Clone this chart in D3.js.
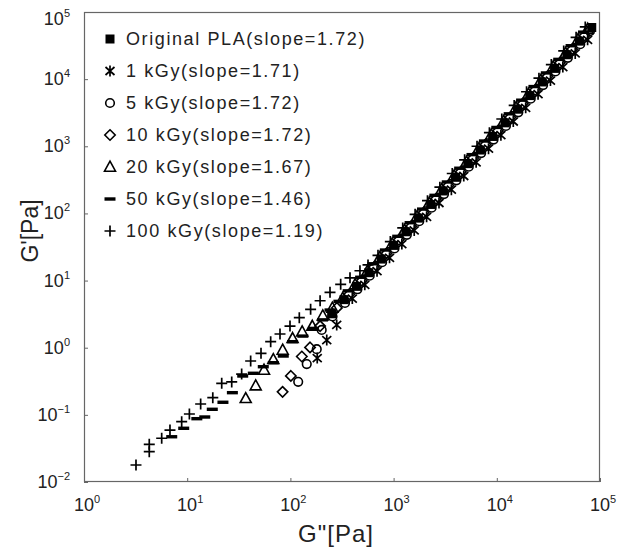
<!DOCTYPE html>
<html><head><meta charset="utf-8">
<script src="https://cdn.jsdelivr.net/npm/d3@7"></script>
<style>html,body{margin:0;padding:0;background:#fff}svg{display:block}</style>
</head><body>
<script>
// ---------- data ----------
const seriesNames = ["Original PLA(slope=1.72)","1 kGy(slope=1.71)","5 kGy(slope=1.72)","10 kGy(slope=1.72)","20 kGy(slope=1.67)","50 kGy(slope=1.46)","100 kGy(slope=1.19)"];
const markerTypes = ["square","asterisk","circle","diamond","triangle","dash","plus"];
const xTickExps = [0,1,2,3,4,5];
const yTickExps = [-2,-1,0,1,2,3,4,5];

// [G'', G']
const origPLA = [[251,3.2],[331,5.2],[437,8.2],[575,13.1],[759,20.9],[1000,33.4],[1318,53.3],[1738,85.1],[2291,136],[3020,216],[3981,345],[5248,551],[6918,879],[9120,1400],[12020,2234],[15850,3565],[20890,5689],[27540,9078],[36310,14450],[47860,23070],[63100,36810],[83180,58750]];
const kGy1 = [[182,0.70],[225,1.30],[281,2.18],[398,5.40],[526,8.63],[691,13.8],[913,21.8],[1202,35.0],[1584,55.8],[2089,89.1],[2754,143],[3630,226],[4785,361],[6308,577],[8315,921],[10960,1466],[14450,2340],[19050,3734],[25110,5959],[33110,9509],[43640,15130],[57530,24170],[75840,38550]];
const kGy5 = [[119,0.31],[144,0.57],[180,0.95],[201,1.84],[256,2.92],[338,4.64],[446,7.42],[587,11.8],[774,18.8],[1020,30.1],[1344,48.0],[1773,76.6],[2337,122],[3080,194],[4061,311],[5353,496],[7056,791],[9302,1260],[12260,2011],[16170,3209],[21310,5120],[28090,8170],[37030,13010],[48820,20760],[64360,33130],[80000,52000]];
const kGy10 = [[84,0.22],[101,0.38],[129,0.74],[155,1.01],[194,2.1],[282,3.92],[372,6.25],[491,9.98],[647,15.9],[854,25.4],[1125,40.5],[1483,64.6],[1955,103],[2577,165],[3398,261],[4478,418],[5904,668],[7783,1065],[10260,1696],[13520,2707],[17830,4319],[23510,6892],[30990,11000],[40850,17500],[53850,27950],[70980,44600]];
const kGy20 = [[36.9,0.176],[46.1,0.272],[55.5,0.466],[68.3,0.671],[84.2,0.925],[105,1.38],[130,1.73],[163,2.10],[206,3.0],[255,3.9],[321,5.47],[424,8.73],[558,13.9],[736,22.2],[970,35.4],[1278,56.5],[1686,90.2],[2222,144],[2929,229],[3862,366],[5091,584],[6710,932],[8846,1484],[11660,2368],[15370,3779],[20270,6030],[26720,9623],[35220,15320],[46430,24450],[61200,39020],[76000,56000]];
const kGy50 = [[7.08,0.0472],[9.25,0.0631],[12.4,0.0877],[14.8,0.0929],[17.5,0.121],[22.2,0.154],[27.4,0.214],[34.5,0.379],[43.7,0.416],[54.6,0.521],[68.3,0.598],[85.3,0.752],[105,1.23],[132,1.49],[167,1.94],[205,2.6],[242,3.64],[295,4.9],[363,7.03],[479,11.2],[630,17.8],[832,28.5],[1096,45.6],[1445,72.7],[1906,116],[2512,186],[3311,294],[4365,471],[5754,751],[7585,1198],[9999,1908],[13180,3045],[17380,4859],[22900,7754],[30190,12370],[39800,19700],[52470,31450],[69180,50160]];
const kGy100 = [[3.19,0.0179],[4.29,0.0283],[4.29,0.0364],[5.66,0.0448],[6.81,0.0594],[8.84,0.0791],[10.5,0.103],[13.5,0.145],[17.7,0.180],[21.6,0.295],[27.0,0.309],[33.7,0.405],[41.2,0.634],[51.9,0.826],[64.4,1.23],[79.3,1.60],[99.1,2.10],[122,2.80],[157,3.73],[194,5.01],[242,6.68],[307,8.79],[378,11.0],[472,14.0],[565,17.1],[706,23.8],[930,38.1],[1226,60.8],[1616,97.0],[2131,155],[2809,246],[3702,393],[4881,628],[6434,1002],[8482,1596],[11180,2547],[14740,4064],[19430,6485],[25610,10350],[33770,16470],[44510,26300],[58680,41960],[72000,60000]];
const seriesData = [origPLA,kGy1,kGy5,kGy10,kGy20,kGy50,kGy100];

// ---------- layout ----------
const W = 626, H = 551;
const m = {left:84, right:26, top:12, bottom:69};
const FONT = "'Liberation Sans', Arial, sans-serif";

const svg = d3.select("body").append("svg").attr("width",W).attr("height",H);
const x = d3.scaleLog().domain([1,1e5]).range([m.left, W-m.right]);
const y = d3.scaleLog().domain([1e-2,1e5]).range([H-m.bottom, m.top]);

// ticks (inward)
const axisCol = "#666";
const gx = svg.append("g").attr("transform",`translate(0,${H-m.bottom})`)
  .call(d3.axisBottom(x).tickValues(xTickExps.map(e=>Math.pow(10,e))).tickSize(-4).tickFormat(""));
const gy = svg.append("g").attr("transform",`translate(${m.left},0)`)
  .call(d3.axisLeft(y).tickValues(yTickExps.map(e=>Math.pow(10,e))).tickSize(-4).tickFormat(""));
[gx,gy].forEach(g=>{g.select(".domain").remove(); g.selectAll("line").attr("stroke",axisCol).attr("stroke-width",1);});

// frame
svg.append("rect").attr("x",m.left+0.5).attr("y",m.top+0.5)
  .attr("width",W-m.left-m.right-1).attr("height",H-m.top-m.bottom-1)
  .attr("fill","none").attr("stroke",axisCol).attr("stroke-width",1.2);

// tick labels
const labCol = "#222";
xTickExps.forEach(e=>{
  const t = svg.append("text").attr("x",x(Math.pow(10,e))+3).attr("y",H-m.bottom+29)
    .attr("text-anchor","middle").attr("font-family",FONT).attr("font-size",18).attr("fill",labCol);
  t.append("tspan").text("10");
  t.append("tspan").attr("font-size",11).attr("dy",-8).text(e);
});
yTickExps.forEach(e=>{
  const yy = Math.max(y(Math.pow(10,e)), 19);
  const t = svg.append("text").attr("x",m.left-14).attr("y",yy+6)
    .attr("text-anchor","end").attr("font-family",FONT).attr("font-size",18).attr("fill",labCol);
  t.append("tspan").text("10");
  t.append("tspan").attr("font-size",11).attr("dy",-8).text(e<0?"\u2212"+(-e):e);
});

// axis titles
svg.append("text").attr("x",(m.left+W-m.right)/2-6).attr("y",H-9)
  .attr("text-anchor","middle").attr("font-family",FONT).attr("font-size",24).attr("letter-spacing",1).attr("fill",labCol)
  .text("G\"[Pa]");
svg.append("text").attr("transform",`translate(38,${(m.top+H-m.bottom)/2-16}) rotate(-90)`)
  .attr("text-anchor","middle").attr("font-family",FONT).attr("font-size",23).attr("fill",labCol)
  .text("G'[Pa]");

// markers
function drawMarker(g, type, cx, cy){
  const s = g.append("g").attr("transform",`translate(${cx},${cy})`);
  switch(type){
    case "square": s.append("rect").attr("x",-4.5).attr("y",-4.5).attr("width",9).attr("height",9).attr("fill","#000"); break;
    case "asterisk": s.append("path").attr("d","M0,-5.5V5.5M-4.5,-4L4.5,4M-4.5,4L4.5,-4").attr("stroke","#000").attr("stroke-width",1.7).attr("fill","none"); break;
    case "circle": s.append("circle").attr("r",4.3).attr("fill","none").attr("stroke","#000").attr("stroke-width",1.6); break;
    case "diamond": s.append("path").attr("d","M0,-5.2L5.2,0L0,5.2L-5.2,0Z").attr("fill","none").attr("stroke","#000").attr("stroke-width",1.6); break;
    case "triangle": s.append("path").attr("d","M0,-5.8L5.5,4.2L-5.5,4.2Z").attr("fill","none").attr("stroke","#000").attr("stroke-width",1.6); break;
    case "dash": s.append("rect").attr("x",-5.5).attr("y",-1.7).attr("width",11).attr("height",3.4).attr("fill","#000"); break;
    case "plus": s.append("path").attr("d","M-5.5,0H5.5M0,-5.5V5.5").attr("stroke","#000").attr("stroke-width",1.7).attr("fill","none"); break;
  }
}
const plot = svg.append("g");
for(let i=seriesData.length-1;i>=0;i--){
  const g = plot.append("g").attr("class","series-"+i);
  seriesData[i].forEach(d=>drawMarker(g, markerTypes[i], x(d[0]), y(d[1])));
}

// legend
const lg = svg.append("g");
seriesNames.forEach((name,i)=>{
  const yy = 39 + i*32;
  drawMarker(lg, markerTypes[i], 110, yy);
  lg.append("text").attr("x",126).attr("y",yy+6).attr("font-family",FONT).attr("font-size",18)
    .attr("letter-spacing",1.6).attr("fill",labCol).text(name);
});
</script>
</body></html>
